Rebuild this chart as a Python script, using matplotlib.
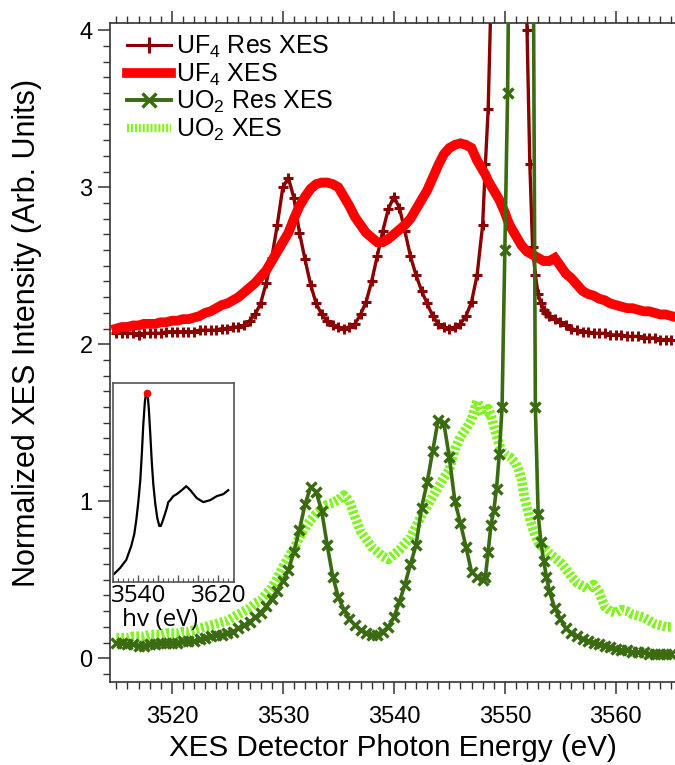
import numpy as np
import matplotlib
matplotlib.use('Agg')
import matplotlib.pyplot as plt
from matplotlib.lines import Line2D
from matplotlib.ticker import MultipleLocator, FixedLocator, FuncFormatter

plt.rcParams['font.family'] = ['Liberation Sans', 'DejaVu Sans']
plt.rcParams['mathtext.fontset'] = 'custom'
plt.rcParams['mathtext.rm'] = 'Liberation Sans'

# ---------------- data ----------------
energy = np.concatenate([np.arange(3515.0, 3548.0, 0.5),
                         np.arange(3548.0, 3554.0, 0.25),
                         np.arange(3554.0, 3565.01, 0.5)])

uf4_res = [2.07, 2.07, 2.07, 2.07, 2.06, 2.07, 2.07, 2.07, 2.07, 2.08,
           2.08, 2.08, 2.08, 2.08, 2.08, 2.09, 2.09, 2.09, 2.09, 2.10,
           2.10, 2.11, 2.11, 2.12, 2.15, 2.19, 2.26, 2.39, 2.55, 2.76,
           3.00, 3.06, 2.93, 2.71, 2.54, 2.38, 2.26, 2.19, 2.15, 2.12,
           2.11, 2.10, 2.11, 2.13, 2.19, 2.27, 2.40, 2.56, 2.72, 2.86,
           2.94, 2.87, 2.72, 2.56, 2.44, 2.34, 2.26, 2.18, 2.13, 2.11,
           2.10, 2.11, 2.13, 2.18, 2.27, 2.44,
           2.76, 3.15, 3.50, 4.20, 5.00, 6.20, 7.50, 9.00, 10.0, 10.5, 10.5, 10.0,
           9.00, 7.50, 6.20, 5.00, 4.00, 3.15, 2.62, 2.44, 2.32, 2.26, 2.22, 2.20,
           2.18, 2.16, 2.14, 2.12, 2.10, 2.09, 2.08, 2.08, 2.07, 2.07, 2.07, 2.06,
           2.06, 2.06, 2.05, 2.05, 2.05, 2.04, 2.04, 2.04, 2.03, 2.03, 2.03]

uf4_xes = [2.10, 2.11, 2.11, 2.12, 2.12, 2.13, 2.13, 2.13, 2.14, 2.14,
           2.15, 2.15, 2.16, 2.16, 2.17, 2.18, 2.20, 2.21, 2.23, 2.25,
           2.26, 2.28, 2.30, 2.33, 2.36, 2.39, 2.43, 2.47, 2.53, 2.59,
           2.65, 2.71, 2.80, 2.88, 2.94, 2.99, 3.02, 3.03, 3.03, 3.02,
           3.00, 2.94, 2.88, 2.81, 2.76, 2.71, 2.68, 2.65, 2.65, 2.67,
           2.70, 2.73, 2.76, 2.80, 2.86, 2.92, 2.98, 3.06, 3.14, 3.21,
           3.25, 3.27, 3.28, 3.27, 3.25, 3.17,
           3.11, 3.08, 3.04, 3.01, 2.98, 2.95, 2.92, 2.88, 2.84, 2.79, 2.75, 2.72,
           2.69, 2.66, 2.63, 2.61, 2.59, 2.58, 2.57, 2.56, 2.55, 2.54, 2.53, 2.53,
           2.53, 2.55, 2.50, 2.45, 2.42, 2.38, 2.34, 2.32, 2.31, 2.29, 2.28, 2.26,
           2.25, 2.24, 2.23, 2.23, 2.22, 2.21, 2.21, 2.20, 2.19, 2.19, 2.18]

uo2_res = [0.10, 0.10, 0.09, 0.09, 0.08, 0.08, 0.09, 0.09, 0.10, 0.10,
           0.10, 0.10, 0.11, 0.11, 0.11, 0.12, 0.13, 0.14, 0.15, 0.15,
           0.16, 0.17, 0.19, 0.21, 0.23, 0.26, 0.29, 0.33, 0.38, 0.43,
           0.49, 0.56, 0.68, 0.82, 0.98, 1.09, 1.06, 0.94, 0.72, 0.52,
           0.39, 0.31, 0.25, 0.21, 0.18, 0.16, 0.15, 0.15, 0.17, 0.20,
           0.26, 0.36, 0.47, 0.60, 0.72, 0.96, 1.12, 1.32, 1.52, 1.50,
           1.28, 1.00, 0.86, 0.71, 0.55, 0.52,
           0.50, 0.52, 0.68, 0.85, 0.94, 1.08, 1.30, 1.60, 2.60, 3.60, 5.50, 8.00,
           10.0, 11.0, 11.0, 10.0, 8.50, 7.00, 5.50, 1.60, 0.92, 0.74, 0.62, 0.52,
           0.43, 0.32, 0.25, 0.19, 0.16, 0.14, 0.12, 0.11, 0.10, 0.09, 0.08, 0.07,
           0.06, 0.05, 0.05, 0.04, 0.04, 0.04, 0.03, 0.03, 0.03, 0.03, 0.03]

uo2_xes = [0.13, 0.13, 0.13, 0.14, 0.14, 0.14, 0.15, 0.15, 0.15, 0.16,
           0.16, 0.16, 0.17, 0.17, 0.18, 0.19, 0.20, 0.21, 0.22, 0.23,
           0.24, 0.26, 0.28, 0.30, 0.32, 0.35, 0.37, 0.41, 0.45, 0.51,
           0.58, 0.64, 0.70, 0.77, 0.83, 0.88, 0.92, 0.95, 0.98, 0.99,
           1.01, 1.04, 1.00, 0.90, 0.81, 0.76, 0.71, 0.68, 0.65, 0.63,
           0.66, 0.69, 0.73, 0.77, 0.84, 0.91, 0.97, 1.03, 1.09, 1.15,
           1.20, 1.33, 1.41, 1.46, 1.52, 1.64,
           1.55, 1.56, 1.59, 1.55, 1.48, 1.42, 1.36, 1.32, 1.30, 1.29, 1.28, 1.26,
           1.24, 1.20, 1.14, 1.03, 0.96, 0.89, 0.83, 0.78, 0.74, 0.72, 0.70, 0.69,
           0.67, 0.64, 0.61, 0.57, 0.52, 0.48, 0.46, 0.44, 0.47, 0.42, 0.33, 0.30,
           0.29, 0.31, 0.30, 0.28, 0.27, 0.26, 0.24, 0.22, 0.21, 0.20, 0.20]

labels = [r'UF$\mathregular{_4}$ Res XES', r'UF$\mathregular{_4}$ XES',
          r'UO$\mathregular{_2}$ Res XES', r'UO$\mathregular{_2}$ XES']

# inset: absorption spectrum
inset_energy = [3516, 3522, 3528, 3533, 3536, 3538, 3540, 3542, 3543.5, 3545, 3546.5,
                3547.5, 3548.5, 3549.5, 3550.5, 3552, 3553.5, 3555, 3557, 3559,
                3561, 3562.5, 3564, 3566, 3568.5, 3570, 3572, 3575, 3578.5,
                3583.5, 3588, 3592, 3598.5, 3605, 3612, 3618.5, 3625, 3630]
inset_abs = [0.04, 0.07, 0.11, 0.18, 0.24, 0.31, 0.40, 0.51, 0.64, 0.79, 0.90,
             0.94, 0.95, 0.93, 0.87, 0.74, 0.60, 0.49, 0.39, 0.32,
             0.28, 0.28, 0.30, 0.33, 0.37, 0.40, 0.41, 0.43, 0.44,
             0.46, 0.48, 0.46, 0.42, 0.40, 0.41, 0.43, 0.44, 0.46]
excitation_energy = 3548.5
excitation_abs = 0.95

# ---------------- style ----------------
c_uf4res = '#8B0000'
c_uf4 = '#FF0000'
c_uo2res = '#3A6B10'
c_uo2 = '#7FF51F'

W_PX, H_PX = 675, 765
fig = plt.figure(figsize=(W_PX / 100, H_PX / 100), dpi=100)

ax_l, ax_r, ax_t, ax_b = 110, 676, 22.7, 681.7
ax = fig.add_axes([ax_l / W_PX, 1 - ax_b / H_PX, (ax_r - ax_l) / W_PX, (ax_b - ax_t) / H_PX])

ax.plot(energy, uf4_res, color=c_uf4res, lw=2.4, marker='+', ms=7.5, mew=2.2, zorder=2)
ax.plot(energy, uf4_xes, color=c_uf4, lw=7, solid_joinstyle='miter', zorder=3)
ax.plot(energy, uo2_xes, color=c_uo2, lw=7, linestyle=(0, (0.3, 0.22)), zorder=4)
ax.plot(energy, uo2_res, color=c_uo2res, lw=2.6, marker='x', ms=6.5, mew=2.4, zorder=5)

ax.set_xlim(3514.43, 3565.42)
ax.set_ylim(-0.149, 4.048)

ax.xaxis.set_major_locator(MultipleLocator(10))
ax.xaxis.set_minor_locator(MultipleLocator(1))
ax.yaxis.set_major_locator(MultipleLocator(1))
ax.yaxis.set_minor_locator(MultipleLocator(0.1))
ax.tick_params(axis='both', which='major', direction='out', length=8.5, width=1.1,
               color='#333333', labelsize=17)
ax.tick_params(axis='both', which='minor', direction='out', length=5, width=1.0,
               color='#333333')
ax.tick_params(axis='x', which='both', top=True, labeltop=False)
ax.tick_params(axis='x', which='major', pad=9)
ax.tick_params(axis='y', which='major', pad=4)
for s in ['left', 'bottom', 'top']:
    ax.spines[s].set_color('#333333')
    ax.spines[s].set_linewidth(1.2)
ax.spines['right'].set_visible(False)

fig.text(393 / W_PX, 1 - 748 / H_PX, 'XES Detector Photon Energy (eV)',
         ha='center', va='center', fontsize=21.3)
fig.text(27 / W_PX, 1 - 333 / H_PX, 'Normalized XES Intensity (Arb. Units)',
         ha='center', va='center', rotation=90, fontsize=22)

handles = [Line2D([], [], color=c_uf4res, lw=2.2, marker='+', ms=12, mew=2.2),
           Line2D([], [], color=c_uf4, lw=7),
           Line2D([], [], color=c_uo2res, lw=2.8, marker='x', ms=10, mew=2.4),
           Line2D([], [], color=c_uo2, lw=6, linestyle=(0, (0.25, 0.22)))]
ax.legend(handles, labels, loc='upper left', bbox_to_anchor=(127 / W_PX, 1 - 34 / H_PX),
          bbox_transform=fig.transFigure, frameon=False, fontsize=18,
          handlelength=1.76, handletextpad=0.2, labelspacing=0.05,
          borderpad=0, borderaxespad=0, numpoints=1)

# ---------------- inset ----------------
in_l, in_r, in_t, in_b = 112.7, 234, 382.7, 581.7
axin = fig.add_axes([in_l / W_PX, 1 - in_b / H_PX, (in_r - in_l) / W_PX, (in_b - in_t) / H_PX])
axin.plot(inset_energy, inset_abs, color='black', lw=1.6)
axin.plot([excitation_energy], [excitation_abs], marker='o', ms=4.5, color='red', mec='red')
axin.set_xlim(3514.4, 3635.7)
axin.set_ylim(0, 1)
axin.set_yticks([])
axin.xaxis.set_major_locator(FixedLocator([3540, 3560, 3580, 3600, 3620]))
axin.xaxis.set_minor_locator(MultipleLocator(5))
axin.xaxis.set_major_formatter(FuncFormatter(lambda v, p: f'{v:.0f}' if v in (3540, 3620) else ''))
axin.tick_params(axis='x', which='major', direction='in', length=5, width=1, color='#555555',
                 labelsize=17.5, pad=2)
axin.tick_params(axis='x', which='minor', direction='in', length=3, width=0.8, color='#555555')
for lbl in axin.get_xticklabels():
    lbl.set_family(['Open Sans', 'DejaVu Sans'])
for s in axin.spines.values():
    s.set_color('#555555')
    s.set_linewidth(1.2)
fig.text(160 / W_PX, 1 - 620 / H_PX, 'hv (eV)', ha='center', va='center',
         fontsize=17.5, family=['Open Sans', 'DejaVu Sans'])

fig.savefig('out.png', dpi=100)
